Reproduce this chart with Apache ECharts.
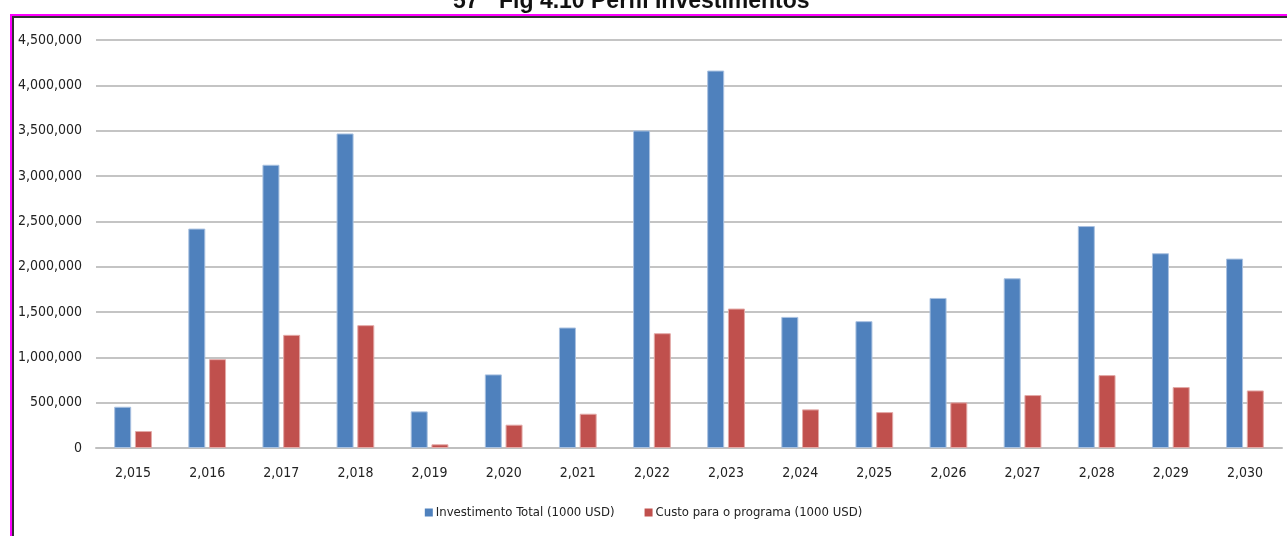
<!DOCTYPE html>
<html>
<head>
<meta charset="utf-8">
<script src="https://cdn.jsdelivr.net/npm/echarts@6/dist/echarts.min.js"></script>
<style>
  html, body { margin: 0; padding: 0; background: #fff; overflow: hidden; }
  #chart { width: 1287px; height: 536px; position: absolute; left: 0; top: 0; }
  #frame { position: absolute; left: 10px; top: 14px; width: 2000px; height: 2000px;
           border-left: 2px solid #ff00ff; border-top: 2px solid #ff00ff; pointer-events: none; }
  #frame2 { position: absolute; left: 12px; top: 16px; width: 2000px; height: 2000px;
           border-left: 2px solid #333; border-top: 2px solid #333; pointer-events: none; }
</style>
</head>
<body>
<div id="chart"></div>
<div id="frame"></div>
<div id="frame2"></div>
<script>
const categories = ['2,015','2,016','2,017','2,018','2,019','2,020','2,021','2,022','2,023','2,024','2,025','2,026','2,027','2,028','2,029','2,030'];
const investimentoTotal = [455000, 2420000, 3124000, 3469000, 404000, 812000, 1329000, 3502000, 4163000, 1446000, 1399000, 1655000, 1872000, 2448000, 2148000, 2089000];
const custoPrograma = [187000, 980000, 1248000, 1355000, 41000, 257000, 378000, 1266000, 1538000, 426000, 396000, 503000, 584000, 804000, 672000, 635000];
const seriesNames = ['Investimento Total (1000 USD)', 'Custo para o programa (1000 USD)'];
const titleNumber = '57';
const titleText = 'Fig 4.10 Perfil Investimentos';

const FONT = '"DejaVu Sans Condensed", "Liberation Sans Narrow", "Liberation Sans", sans-serif';
const chart = echarts.init(document.getElementById('chart'), null, { renderer: 'canvas' });
chart.setOption({
  animation: false,
  backgroundColor: '#ffffff',
  color: ['#4F81BD', '#C0504D'],
  graphic: [
    { type: 'text', left: 453, top: -10, style: { text: titleNumber, font: 'bold 23px "Liberation Sans", sans-serif', fill: '#111' } },
    { type: 'text', left: 499, top: -10, style: { text: titleText, font: 'bold 23px "Liberation Sans", sans-serif', fill: '#111' } }
  ],
  legend: {
    bottom: 12,
    left: 'center',
    itemWidth: 8,
    itemHeight: 8,
    itemGap: 30,
    icon: 'rect',
    itemStyle: { borderWidth: 0 },
    textStyle: { fontFamily: FONT, fontSize: 13, color: '#222', padding: [0, 0, 0, -2] },
    data: seriesNames
  },
  grid: { left: 96, right: 5, top: 40, bottom: 88, containLabel: false },
  xAxis: {
    type: 'category',
    data: categories,
    axisLine: { show: true, lineStyle: { color: '#bfbfbf', width: 2 } },
    axisTick: { show: false },
    axisLabel: { fontFamily: FONT, fontSize: 14, color: '#222', margin: 18 }
  },
  yAxis: {
    type: 'value',
    min: 0,
    max: 4500000,
    interval: 500000,
    axisLine: { show: false },
    axisTick: { show: false },
    splitLine: { lineStyle: { color: '#c4c4c4', width: 2 } },
    axisLabel: {
      fontFamily: FONT, fontSize: 14, color: '#222', margin: 14,
      formatter: v => v.toLocaleString('en-US')
    }
  },
  series: [
    { name: seriesNames[0], type: 'bar', data: investimentoTotal, barWidth: 17, barGap: '22%',
      itemStyle: { color: '#4F81BD', borderColor: '#a9c1e0', borderWidth: 1 } },
    { name: seriesNames[1], type: 'bar', data: custoPrograma, barWidth: 17,
      itemStyle: { color: '#C0504D', borderColor: '#e3a9a7', borderWidth: 1 } }
  ]
});
</script>
</body>
</html>
